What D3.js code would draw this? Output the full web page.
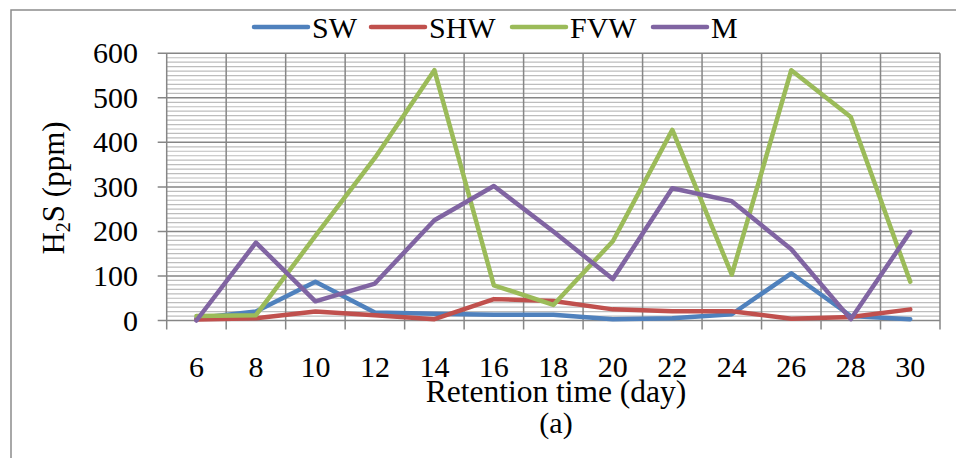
<!DOCTYPE html>
<html>
<head>
<meta charset="utf-8">
<script src="https://cdn.jsdelivr.net/npm/d3@7"></script>
<style>
  html, body { margin: 0; padding: 0; background: #fff; }
  svg { display: block; }
</style>
</head>
<body>
<svg id="chart" width="956" height="458" font-family="'Liberation Serif', 'Times New Roman', Times, serif"></svg>
<script>
// Retention time categories (days)
const days = [6, 8, 10, 12, 14, 16, 18, 20, 22, 24, 26, 28, 30];

// H2S concentration (ppm) for each treatment
const seriesNames = ["SW", "SHW", "FVW", "M"];
const sw  = [5, 20, 87, 18, 15, 13, 13, 3, 5, 14, 106, 10, 3];
const shw = [2, 5, 20, 12, 3, 48, 44, 25, 21, 21, 4, 8, 25];
const fvw = [10, 12, 190, 365, 562, 79, 35, 178, 428, 103, 562, 457, 87];
const m   = [0, 175, 43, 83, 225, 302, 200, 93, 297, 268, 160, 3, 199];

const yTicks = [0, 100, 200, 300, 400, 500, 600];
const colors = ["#4F81BD", "#C0504D", "#9BBB59", "#8064A2"];

const seriesData = [sw, shw, fvw, m];

const svg = d3.select("#chart");
const W = 956, H = 458;
const plot = { left: 166.7, right: 940, top: 53.3, bottom: 320.5 };
const FONT = "'Liberation Serif', 'Times New Roman', Times, serif";

// Outer chart border
svg.append("rect")
  .attr("x", 11).attr("y", 10)
  .attr("width", W + 20).attr("height", H + 20)
  .attr("fill", "none").attr("stroke", "#8c8c8c").attr("stroke-width", 1.5);

const x = d3.scaleBand().domain(days).range([plot.left, plot.right]).padding(0);
const y = d3.scaleLinear().domain([0, 600]).range([plot.bottom, plot.top]);

const grid = svg.append("g");

// Minor horizontal gridlines every 10 ppm
const minor = d3.range(10, 600, 10).filter(v => v % 100 !== 0);
grid.selectAll("line.minor").data(minor).join("line")
  .attr("class", "minor")
  .attr("x1", plot.left).attr("x2", plot.right)
  .attr("y1", d => y(d)).attr("y2", d => y(d))
  .attr("stroke", "#bdbdbd").attr("stroke-width", 1.2);

// Vertical gridlines at category boundaries
const bounds = days.map(d => x(d)).concat([plot.right]);
grid.selectAll("line.vg").data(bounds).join("line")
  .attr("class", "vg")
  .attr("x1", d => d).attr("x2", d => d)
  .attr("y1", plot.top).attr("y2", plot.bottom + 9)
  .attr("stroke", "#868686").attr("stroke-width", 1.5);

// Major horizontal gridlines
grid.selectAll("line.major").data(yTicks).join("line")
  .attr("class", "major")
  .attr("x1", plot.left - 9).attr("x2", plot.right)
  .attr("y1", d => y(d)).attr("y2", d => y(d))
  .attr("stroke", "#868686").attr("stroke-width", 1.5);

const txt = sel => sel.attr("font-family", FONT).attr("fill", "#000");

// Y tick labels
svg.append("g").selectAll("text").data(yTicks).join("text")
  .call(txt)
  .attr("x", 138).attr("y", d => y(d) + 10)
  .attr("text-anchor", "end")
  .attr("font-size", 30)
  .text(d => d);

// X tick labels
svg.append("g").selectAll("text").data(days).join("text")
  .call(txt)
  .attr("x", d => x(d) + x.bandwidth() / 2).attr("y", 377)
  .attr("text-anchor", "middle")
  .attr("font-size", 30)
  .text(d => d);

// Axis titles
svg.append("text").call(txt)
  .attr("x", 556).attr("y", 402)
  .attr("text-anchor", "middle").attr("font-size", 31.5)
  .text("Retention time (day)");

svg.append("text").call(txt)
  .attr("x", 556).attr("y", 433)
  .attr("text-anchor", "middle").attr("font-size", 30)
  .text("(a)");

const yl = svg.append("text").call(txt)
  .attr("transform", "translate(64,188) rotate(-90)")
  .attr("text-anchor", "middle").attr("font-size", 31);
yl.append("tspan").text("H");
yl.append("tspan").attr("font-size", 20).attr("dy", 6).text("2");
yl.append("tspan").attr("dy", -6).text("S (ppm)");

// Series lines
const line = d3.line()
  .x((d, i) => x(days[i]) + x.bandwidth() / 2)
  .y(d => y(d));

svg.append("g").selectAll("path").data(seriesData).join("path")
  .attr("d", d => line(d))
  .attr("fill", "none")
  .attr("stroke", (d, i) => colors[i])
  .attr("stroke-width", 4.5)
  .attr("stroke-linejoin", "round")
  .attr("stroke-linecap", "round");

// Legend
const legendX = [253, 370, 511, 652];
const lg = svg.append("g").selectAll("g").data(seriesNames).join("g")
  .attr("transform", (d, i) => `translate(${legendX[i]},27)`);
lg.append("line")
  .attr("x1", 1).attr("x2", 55).attr("y1", 0).attr("y2", 0)
  .attr("stroke", (d, i) => colors[i]).attr("stroke-width", 4.5)
  .attr("stroke-linecap", "round");
lg.append("text").call(txt)
  .attr("x", 59).attr("y", 11)
  .attr("font-size", 30)
  .text(d => d);
</script>
</body>
</html>
